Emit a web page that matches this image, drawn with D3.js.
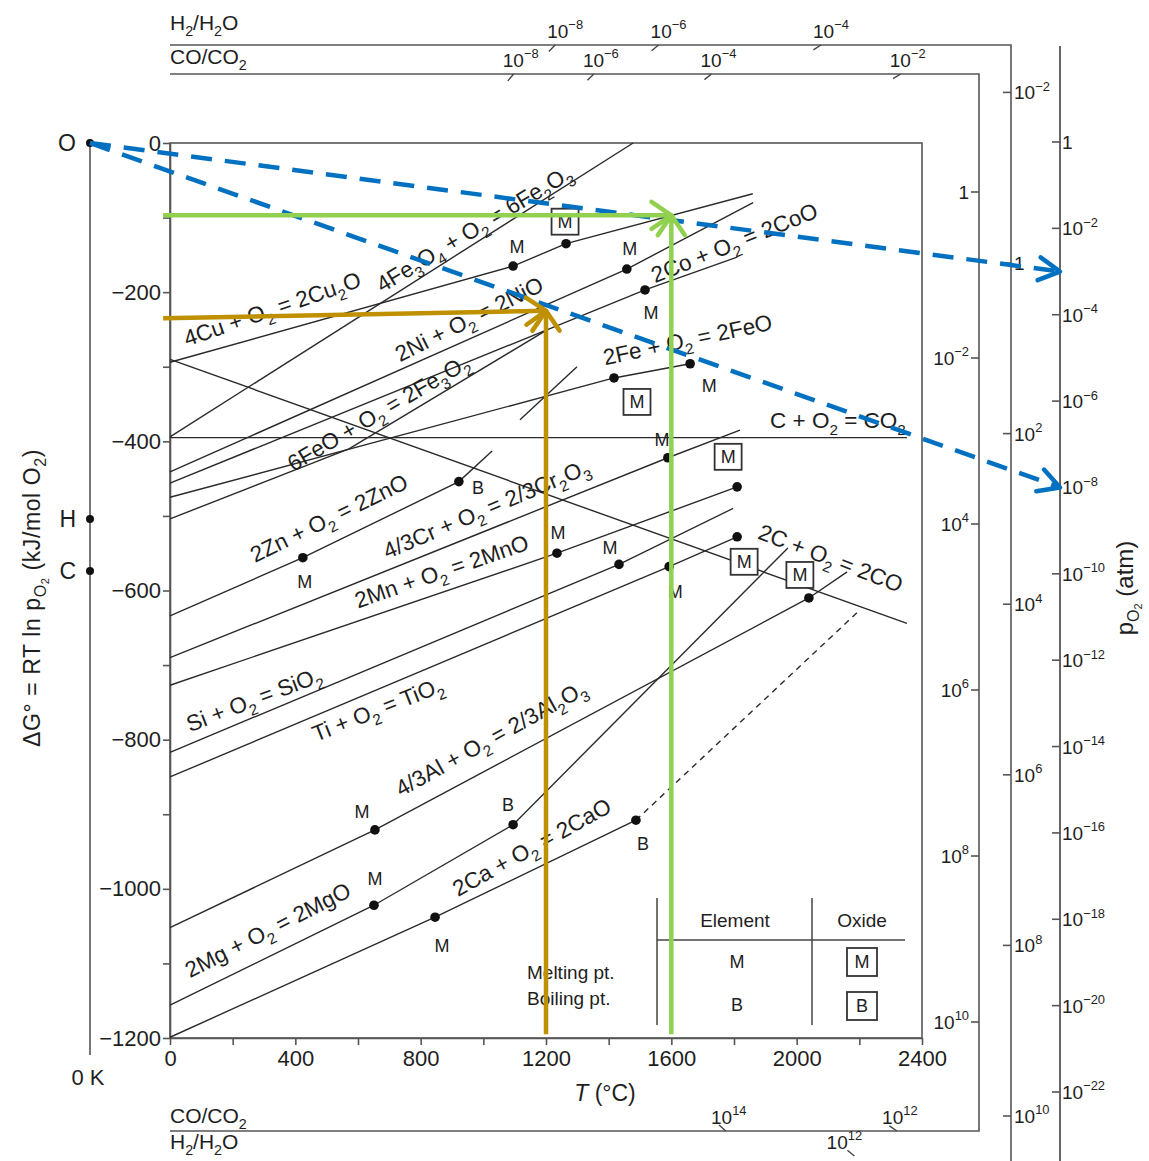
<!DOCTYPE html>
<html>
<head>
<meta charset="utf-8">
<script src="https://cdn.jsdelivr.net/npm/d3@7"></script>
<style>
  body { margin: 0; background: #fff; }
  text { font-family: "Liberation Sans", Arial, Helvetica, sans-serif; fill: #1e1e1e; }
</style>
</head>
<body>
<svg id="chart" width="1149" height="1161"></svg>
<script>
// ---------- axis values ----------
const tempTicks = d3.range(0, 2401, 200);        // °C
const dgTicks = d3.range(0, -1201, -100);        // kJ/mol O2

// ---------- standard free energy lines, [T (°C), ΔG° (kJ/mol O2)] ----------
const cu2oLine   = [[0, -294], [1095, -165], [1264, -135], [1860, -68]];
const fe2o3Line  = [[0, -394], [1478, 0]];
const nioLine    = [[0, -441], [1458, -169], [1861, -80]];
const cooLine    = [[0, -456], [1516, -197], [1810, -153]];
const feoLine    = [[0, -475], [1417, -315], [1660, -296]];
const fe3o4Low   = [[0, -504], [571, -410]];
const fe3o4Line  = [[571, -410], [1206, -250]];
const co2Line    = [[0, -395], [2352, -395]];
const coLine     = [[0, -290], [2352, -644]];
const znoLine    = [[0, -634], [424, -556], [922, -454], [1028, -413]];
const znVapour   = [[1117, -371], [1299, -300]];
const cr2o3Line  = [[0, -690], [1589, -422], [1819, -385]];
const mnoLine    = [[0, -727], [1235, -550], [1810, -461]];
const sio2Line   = [[0, -817], [1433, -565], [1797, -490]];
const tio2Line   = [[0, -850], [1593, -568], [1810, -528]];
const al2o3Line  = [[0, -1052], [654, -921], [2039, -610], [2161, -575]];
const mgoLine    = [[0, -1156], [651, -1022], [1095, -914], [1972, -543]];
const caoLine    = [[0, -1199], [846, -1038], [1487, -908]];
const caoVapour  = [[1487, -908], [2202, -626]];

const reactionLines = [
  { pts: cu2oLine }, { pts: fe2o3Line }, { pts: nioLine }, { pts: cooLine },
  { pts: feoLine }, { pts: fe3o4Low }, { pts: fe3o4Line }, { pts: co2Line },
  { pts: coLine }, { pts: znoLine }, { pts: znVapour }, { pts: cr2o3Line }, { pts: mnoLine },
  { pts: sio2Line }, { pts: tio2Line }, { pts: al2o3Line }, { pts: mgoLine },
  { pts: caoLine }, { pts: caoVapour, dashed: true }
];

// reaction captions: text, anchor [T, ΔG], angle (deg)
const reactionCaptions = [
  ["4Cu + O_2 = 2Cu_2O", 54, -273, -19],
  ["4Fe_3O_4 + O_2 = 6Fe_2O_3", 677, -201, -31],
  ["2Ni + O_2 = 2NiO", 734, -294, -26.5],
  ["2Co + O_2 = 2CoO", 1548, -188, -22],
  ["6FeO + O_2 = 2Fe_3O_2", 393, -441, -30.5],
  ["2Fe + O_2 = 2FeO", 1388, -298, -12],
  ["C + O_2 = CO_2", 1915, -382, 0],
  ["2C + O_2 = 2CO", 1873, -530, 21],
  ["2Zn + O_2 = 2ZnO", 271, -563, -26],
  ["4/3Cr + O_2 = 2/3Cr_2O_3", 693, -558, -23],
  ["2Mn + O_2 = 2MnO", 600, -624, -19],
  ["Si + O_2 = SiO_2", 64, -790, -21],
  ["Ti + O_2 = TiO_2", 466, -803, -21.5],
  ["4/3Al + O_2 = 2/3Al_2O_3", 737, -877, -29],
  ["2Mg + O_2 = 2MgO", 64, -1120, -27],
  ["2Ca + O_2 = 2CaO", 919, -1011, -29]
];

// melting (M) and boiling (B) points; boxed = oxide transition
const transitions = [
  { id: "cu",    T: 1095, dG: -165,  mark: "M", boxed: false },
  { id: "cu2o",  T: 1264, dG: -135,  mark: "M", boxed: true  },
  { id: "ni",    T: 1458, dG: -169,  mark: "M", boxed: false },
  { id: "co",    T: 1516, dG: -197,  mark: "M", boxed: false },
  { id: "feo",   T: 1417, dG: -315,  mark: "M", boxed: true  },
  { id: "fe",    T: 1660, dG: -296,  mark: "M", boxed: false },
  { id: "znm",   T: 424,  dG: -556,  mark: "M", boxed: false },
  { id: "znb",   T: 922,  dG: -454,  mark: "B", boxed: false },
  { id: "cr",    T: 1589, dG: -422,  mark: "M", boxed: false },
  { id: "mn",    T: 1235, dG: -550,  mark: "M", boxed: false },
  { id: "mno",   T: 1810, dG: -461,  mark: "M", boxed: true  },
  { id: "si",    T: 1433, dG: -565,  mark: "M", boxed: false },
  { id: "ti",    T: 1593, dG: -568,  mark: "M", boxed: false },
  { id: "tio2",  T: 1810, dG: -528,  mark: "M", boxed: true  },
  { id: "al",    T: 654,  dG: -921,  mark: "M", boxed: false },
  { id: "al2o3", T: 2039, dG: -610,  mark: "M", boxed: true  },
  { id: "mgm",   T: 651,  dG: -1022, mark: "M", boxed: false },
  { id: "mgb",   T: 1095, dG: -914,  mark: "B", boxed: false },
  { id: "cam",   T: 846,  dG: -1038, mark: "M", boxed: false },
  { id: "cab",   T: 1487, dG: -908,  mark: "B", boxed: false }
];

// nomograph reference points on the 0 K axis (ΔG° at 0 K)
const zeroKPoints = [["O", 0], ["H", -504], ["C", -574]];

// nomograph scale exponents
const pO2Exps = d3.range(0, -23, -2);
const h2SideExps = [-2, 0, 2, 4, 6, 8, 10];
const coSideExps = [0, 2, 4, 6, 8, 10];
const coSideText = ["1", "10^{−2}", "10^4", "10^6", "10^8", "10^{10}"];
const h2TopExps = [-8, -6, -4];
const coTopExps = [-8, -6, -4, -2];
const coBottomExps = [14, 12];
const h2BottomExps = [12];

// worked examples: read-offs at a temperature on a line, and p_O2 rays
const readOffs = [
  { T: 1600, dG: -97,  dGstart: -97,  color: "#92d050" },
  { T: 1200, dG: -225, dGstart: -235, color: "#bf9000" }
];
const pO2Rays = [-3, -8];

// ---------- layout ----------
const svg = d3.select("#chart");
const x = d3.scaleLinear().domain([0, 2400]).range([170, 922]);
const y = d3.scaleLinear().domain([0, -1200]).range([143, 1038]);
const zeroKX = 90;
const pO2X = 1060, h2X = 1011, coX = 979;
const h2TopY = 45, coTopY = 74, coBottomY = 1131, h2BottomY = 1164;
const pO2Y = d3.scaleLinear().domain([0, -22]).range([142, 1092]);
const h2Y = d3.scaleLinear().domain([0, 10]).range([263, 1116]);
const coY = d3.scaleLinear().domain([0, 10]).range([192, 1022]);
const ink = "#2a2a2a";
const capSize = 22.5, tickSize = 22, scaleFont = 19, markFont = 18;

// text with sub/superscripts: "_x" / "_{..}" and "^x" / "^{..}"
function parseRich(s) {
  const out = []; let buf = ""; let i = 0;
  const flush = () => { if (buf) { out.push({ t: buf, k: null }); buf = ""; } };
  while (i < s.length) {
    const c = s[i];
    if (c === "_" || c === "^") {
      flush();
      let t;
      if (s[i + 1] === "{") { const j = s.indexOf("}", i); t = s.slice(i + 2, j); i = j + 1; }
      else { t = s[i + 1]; i += 2; }
      out.push({ t, k: c === "_" ? "sub" : "sup" });
    } else { buf += c; i++; }
  }
  flush();
  return out;
}
function rich(textSel, s, fs) {
  let shift = 0;
  parseRich(s).forEach(p => {
    const target = p.k === "sub" ? fs * 0.3 : p.k === "sup" ? -fs * 0.45 : 0;
    textSel.append("tspan")
      .attr("dy", target - shift)
      .attr("font-size", p.k ? fs * 0.68 : fs)
      .text(p.t);
    shift = target;
  });
  return textSel;
}
const expLabel = e => e === 0 ? "1" : "10^{" + (e < 0 ? "−" + (-e) : e) + "}";

// ---------- plot frame and axes ----------
svg.append("rect").attr("x", x(0)).attr("y", y(0))
  .attr("width", x(2400) - x(0)).attr("height", y(-1200) - y(0))
  .attr("fill", "none").attr("stroke", "#555").attr("stroke-width", 1.6);

const xAxis = svg.append("g").attr("transform", `translate(0,${y(-1200)})`)
  .call(d3.axisBottom(x).tickValues(tempTicks).tickSize(7).tickSizeOuter(0).tickPadding(5)
    .tickFormat(d => d % 400 === 0 ? d : ""));
const yAxis = svg.append("g").attr("transform", `translate(${x(0)},0)`)
  .call(d3.axisLeft(y).tickValues(dgTicks).tickSize(7).tickSizeOuter(0).tickPadding(2)
    .tickFormat(d => d % 200 === 0 ? d3.format("")(d).replace("-", "−") : ""));
[xAxis, yAxis].forEach(a => {
  a.selectAll("path, line").attr("stroke", "#555").attr("stroke-width", 1.6);
  a.selectAll("text").attr("font-size", tickSize).attr("fill", "#1e1e1e")
    .style("font-family", '"Liberation Sans", Arial, sans-serif');
});

svg.append("text").attr("x", 605).attr("y", 1101).attr("text-anchor", "middle").attr("font-size", 23)
  .call(t => { t.append("tspan").attr("font-style", "italic").text("T"); t.append("tspan").text(" (°C)"); });

const yTitle = svg.append("text").attr("transform", "translate(40,598) rotate(-90)")
  .attr("text-anchor", "middle").attr("font-size", 23).attr("letter-spacing", 0.6);
yTitle.append("tspan").text("ΔG° = RT ln p");
yTitle.append("tspan").attr("dy", 6).attr("font-size", 16).text("O");
yTitle.append("tspan").attr("dy", 3).attr("font-size", 11).text("2");
yTitle.append("tspan").attr("dy", -9).text(" (kJ/mol O");
yTitle.append("tspan").attr("dy", 6).attr("font-size", 16).text("2");
yTitle.append("tspan").attr("dy", -6).text(")");

// ---------- 0 K axis ----------
svg.append("line").attr("x1", zeroKX).attr("x2", zeroKX).attr("y1", y(0)).attr("y2", 1055)
  .attr("stroke", "#555").attr("stroke-width", 1.6);
zeroKPoints.forEach(([name, g]) => {
  svg.append("circle").attr("cx", zeroKX).attr("cy", y(g)).attr("r", 4).attr("fill", "#111");
  svg.append("text").attr("x", zeroKX - 14).attr("y", y(g)).attr("dy", "0.36em")
    .attr("text-anchor", "end").attr("font-size", 23).text(name);
});
svg.append("text").attr("x", zeroKX - 2).attr("y", 1085).attr("text-anchor", "middle")
  .attr("font-size", 22).text("0 K");

// ---------- nomograph scales ----------
function path(pts) { return d3.line()(pts); }
svg.append("path").attr("d", path([[x(0), h2TopY], [h2X, h2TopY], [h2X, 1161]]))
  .attr("stroke", "#555").attr("stroke-width", 1.6).attr("fill", "none");
svg.append("path").attr("d", path([[x(0), coTopY], [coX, coTopY], [coX, coBottomY], [x(0), coBottomY]]))
  .attr("stroke", "#555").attr("stroke-width", 1.6).attr("fill", "none");
svg.append("path").attr("d", path([[x(0), h2BottomY], [h2X, h2BottomY]]))
  .attr("stroke", "#555").attr("stroke-width", 1.6).attr("fill", "none");
svg.append("line").attr("x1", pO2X).attr("x2", pO2X).attr("y1", 46).attr("y2", 1161)
  .attr("stroke", "#555").attr("stroke-width", 1.8);

svg.append("text").attr("x", x(0)).attr("y", 30).attr("font-size", 21).call(t => rich(t, "H_2/H_2O", 21));
svg.append("text").attr("x", x(0)).attr("y", 64).attr("font-size", 21).call(t => rich(t, "CO/CO_2", 21));
svg.append("text").attr("x", x(0)).attr("y", 1123).attr("font-size", 21).call(t => rich(t, "CO/CO_2", 21));
svg.append("text").attr("x", x(0)).attr("y", 1149).attr("font-size", 21).call(t => rich(t, "H_2/H_2O", 21));

// side scales
pO2Exps.forEach(e => {
  const yy = pO2Y(e);
  svg.append("line").attr("x1", pO2X - 8).attr("x2", pO2X).attr("y1", yy).attr("y2", yy).attr("stroke", "#555").attr("stroke-width", 1.6);
  svg.append("text").attr("x", pO2X + 2).attr("y", yy + 7).attr("font-size", scaleFont).call(t => rich(t, expLabel(e), scaleFont));
});
h2SideExps.forEach(e => {
  const yy = h2Y(e);
  svg.append("line").attr("x1", h2X - 8).attr("x2", h2X).attr("y1", yy).attr("y2", yy).attr("stroke", "#555").attr("stroke-width", 1.6);
  svg.append("text").attr("x", h2X + 3).attr("y", yy + 7).attr("font-size", scaleFont).call(t => rich(t, expLabel(e), scaleFont));
});
coSideExps.forEach((e, i) => {
  const yy = coY(e);
  svg.append("line").attr("x1", coX - 8).attr("x2", coX).attr("y1", yy).attr("y2", yy).attr("stroke", "#555").attr("stroke-width", 1.6);
  const t = svg.append("text").attr("y", yy + 7).attr("font-size", scaleFont);
  rich(t, coSideText[i], scaleFont);
  const w = t.node().getComputedTextLength();
  t.attr("x", coX - 10 - w);
});

// horizontal scales: rays from the H / C points through the side scales
function rayTicks(P, axisX, axisY, exps, lineY, labelShift) {
  exps.forEach(e => {
    const vy = axisY(e);
    const ix = P.x + (lineY - P.y) * (axisX - P.x) / (vy - P.y);
    const dx = P.x - ix, dy = P.y - lineY, len = Math.hypot(dx, dy);
    svg.append("line").attr("x1", ix).attr("y1", lineY)
      .attr("x2", ix + 9 * dx / len).attr("y2", lineY + 9 * dy / len)
      .attr("stroke", "#444").attr("stroke-width", 1.4);
    const t = svg.append("text").attr("font-size", scaleFont).attr("y", lineY - 7);
    rich(t, expLabel(e), scaleFont);
    const w = t.node().getComputedTextLength();
    t.attr("x", ix - w / 2 + labelShift);
  });
}
const Hpt = { x: zeroKX, y: y(-504) }, Cpt = { x: zeroKX, y: y(-574) };
rayTicks(Hpt, h2X, h2Y, h2TopExps, h2TopY, 10);
rayTicks(Cpt, coX, coY, coTopExps, coTopY, 7);
rayTicks(Cpt, coX, coY, coBottomExps, coBottomY, 3);
rayTicks(Hpt, h2X, h2Y, h2BottomExps, h2BottomY - 8, -10);

const pTitle = svg.append("text").attr("transform", "translate(1133,588) rotate(-90)")
  .attr("text-anchor", "middle").attr("font-size", 24);
pTitle.append("tspan").text("p");
pTitle.append("tspan").attr("dy", 6).attr("font-size", 16).text("O");
pTitle.append("tspan").attr("dy", 3).attr("font-size", 11).text("2");
pTitle.append("tspan").attr("dy", -9).text(" (atm)");

// ---------- reaction lines ----------
const lineGen = d3.line().x(d => x(d[0])).y(d => y(d[1]));
svg.append("g").selectAll("path").data(reactionLines).join("path")
  .attr("d", d => lineGen(d.pts)).attr("fill", "none").attr("stroke", ink)
  .attr("stroke-width", 1.4).attr("stroke-dasharray", d => d.dashed ? "6,5" : null);

reactionCaptions.forEach(([s, T, g, a]) => {
  const t = svg.append("text").attr("transform", `translate(${x(T)},${y(g)}) rotate(${a})`).attr("font-size", capSize);
  rich(t, s, capSize);
});

// ---------- transition markers ----------
const markOffset = {
  cu: [4, -20], cu2o: [-1, -22], ni: [3, -21], co: [6, 23], feo: [23, 24], fe: [19, 22],
  znm: [2, 24], znb: [19, 6], cr: [-6, -18], mn: [1, -21], mno: [-9, -30], si: [-9, -17],
  ti: [6, 25], tio2: [7, 25], al: [-13, -18], al2o3: [-9, -23], mgm: [1, -27], mgb: [-5, -20],
  cam: [7, 28], cab: [7, 23]
};
function markLabel(g, cx, cy, s, boxed, size) {
  if (boxed) {
    g.append("rect").attr("x", cx - size.w / 2).attr("y", cy - size.h / 2)
      .attr("width", size.w).attr("height", size.h).attr("fill", "#fff")
      .attr("stroke", "#333").attr("stroke-width", 1.8);
  }
  g.append("text").attr("x", cx).attr("y", cy).attr("dy", "0.36em").attr("text-anchor", "middle")
    .attr("font-size", markFont).text(s);
}
const markG = svg.append("g");
transitions.forEach(d => {
  const cx = x(d.T), cy = y(d.dG);
  markG.append("circle").attr("cx", cx).attr("cy", cy).attr("r", 4.8).attr("fill", "#111");
  const [dx, dy] = markOffset[d.id];
  markLabel(markG, cx + dx, cy + dy, d.mark, d.boxed, { w: 27, h: 26 });
});

// ---------- legend ----------
const lg = svg.append("g");
lg.append("line").attr("x1", 657).attr("x2", 657).attr("y1", 898).attr("y2", 1025).attr("stroke", "#444").attr("stroke-width", 1.5);
lg.append("line").attr("x1", 812).attr("x2", 812).attr("y1", 898).attr("y2", 1025).attr("stroke", "#444").attr("stroke-width", 1.5);
lg.append("line").attr("x1", 657).attr("x2", 905).attr("y1", 940).attr("y2", 940).attr("stroke", "#444").attr("stroke-width", 1.5);
lg.append("text").attr("x", 735).attr("y", 920).attr("dy", "0.36em").attr("text-anchor", "middle").attr("font-size", 19).text("Element");
lg.append("text").attr("x", 862).attr("y", 920).attr("dy", "0.36em").attr("text-anchor", "middle").attr("font-size", 19).text("Oxide");
markLabel(lg, 737, 962, "M", false);
markLabel(lg, 737, 1005, "B", false);
markLabel(lg, 862, 962, "M", true, { w: 30, h: 28 });
markLabel(lg, 862, 1006, "B", true, { w: 30, h: 28 });
lg.append("text").attr("x", 527).attr("y", 972).attr("dy", "0.36em").attr("font-size", 19).text("Melting pt.");
lg.append("text").attr("x", 527).attr("y", 998).attr("dy", "0.36em").attr("font-size", 19).text("Boiling pt.");

// ---------- worked examples ----------
function chevron(tipX, tipY, fromX, fromY, color, len, spread) {
  const ang = Math.atan2(fromY - tipY, fromX - tipX);
  const p = s => [tipX + len * Math.cos(ang + s), tipY + len * Math.sin(ang + s)];
  svg.append("path").attr("d", path([p(spread), [tipX, tipY], p(-spread)]))
    .attr("fill", "none").attr("stroke", color).attr("stroke-width", 4.5)
    .attr("stroke-linecap", "round").attr("stroke-linejoin", "round");
}
pO2Rays.forEach(e => {
  const x0 = zeroKX, y0 = y(0), x1 = pO2X, y1 = pO2Y(e);
  svg.append("line").attr("x1", x0).attr("y1", y0).attr("x2", x1).attr("y2", y1)
    .attr("stroke", "#0070c0").attr("stroke-width", 4.5).attr("stroke-dasharray", "21,13");
  chevron(x1, y1, x0, y0, "#0070c0", 24, 0.5);
});
readOffs.forEach(d => {
  const tx = x(d.T), ty = y(d.dG);
  svg.append("line").attr("x1", x(-22)).attr("y1", y(d.dGstart)).attr("x2", tx).attr("y2", ty)
    .attr("stroke", d.color).attr("stroke-width", 4.5);
  svg.append("line").attr("x1", tx).attr("y1", y(-1195)).attr("x2", tx).attr("y2", ty)
    .attr("stroke", d.color).attr("stroke-width", 4.5);
  chevron(tx, ty, x(-22), y(d.dGstart), d.color, 24, 0.6);
  chevron(tx, ty, tx, y(-1195), d.color, 24, 0.6);
});
</script>
</body>
</html>
